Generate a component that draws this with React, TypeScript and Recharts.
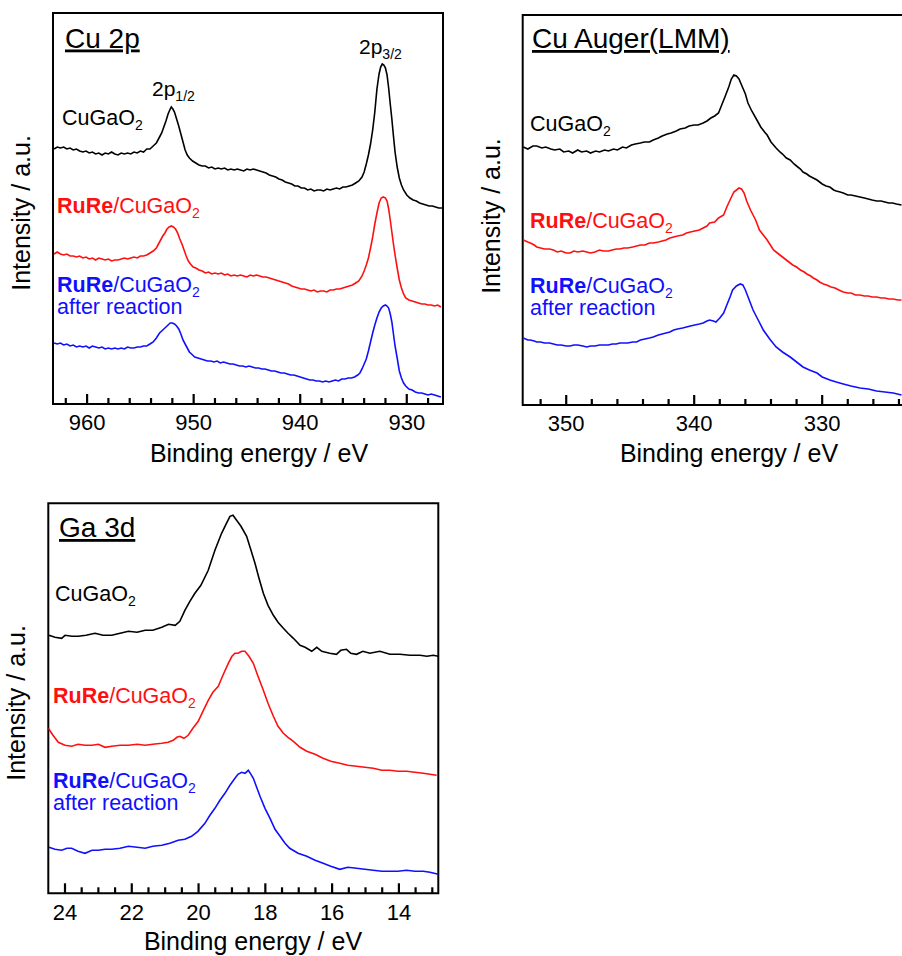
import React from 'react';
import { LineChart, Line, XAxis, YAxis, ReferenceArea, ReferenceLine } from 'recharts';

const FONT = '"Liberation Sans", Arial, Helvetica, sans-serif';
const BLACK = '#000000';
const RED = '#ff1010';
const BLUE = '#1010ff';

type Pt = [number, number];

// --- Cu 2p (binding energy eV, intensity a.u.) ---
const cu2pBlack: Pt[] = [
  [963.1, 255], [962.8, 257], [962.5, 256], [962.2, 257], [961.9, 255], [961.6, 256], [961.3, 254], [961.0, 255],
  [960.7, 253], [960.4, 252], [960.1, 253], [959.8, 251], [959.5, 252], [959.2, 250], [958.9, 251], [958.6, 249],
  [958.3, 251], [958.0, 250], [957.7, 252], [957.4, 250], [957.1, 249], [956.8, 251], [956.5, 250], [956.2, 251],
  [955.9, 250], [955.6, 252], [955.3, 251], [955.0, 253], [954.7, 252], [954.4, 255], [954.1, 255], [953.8, 258],
  [953.5, 261], [953.2, 267], [953.0, 271], [952.8, 277], [952.6, 283], [952.4, 290], [952.2, 295], [952.1, 297],
  [951.95, 295], [951.8, 292], [951.6, 285], [951.4, 278], [951.2, 270], [951.0, 262], [950.8, 254], [950.6, 249],
  [950.4, 246], [950.1, 243], [949.8, 241], [949.5, 239], [949.2, 238], [948.9, 238], [948.6, 236], [948.3, 237],
  [948.0, 235], [947.7, 236], [947.4, 235], [947.1, 236], [946.8, 234], [946.5, 235], [946.2, 234], [945.9, 235],
  [945.6, 234], [945.3, 233], [945.0, 235], [944.7, 234], [944.4, 235], [944.1, 234], [943.8, 233], [943.5, 232],
  [943.2, 231], [942.9, 229], [942.6, 228], [942.3, 227], [942.0, 225], [941.7, 224], [941.4, 222], [941.1, 221],
  [940.8, 220], [940.5, 218], [940.2, 218], [939.9, 216], [939.6, 216], [939.3, 214], [939.0, 215], [938.7, 213],
  [938.4, 214], [938.1, 214], [937.8, 213], [937.5, 215], [937.2, 214], [936.9, 215], [936.6, 216], [936.3, 215],
  [936.0, 217], [935.7, 217], [935.4, 218], [935.1, 219], [934.8, 221], [934.5, 223], [934.2, 227], [934.0, 232],
  [933.8, 240], [933.6, 249], [933.4, 260], [933.2, 274], [933.0, 292], [932.8, 315], [932.6, 330], [932.45, 337],
  [932.3, 340], [932.15, 339], [932.0, 336], [931.85, 329], [931.7, 316], [931.55, 300], [931.4, 285], [931.25, 268],
  [931.1, 252], [930.9, 237], [930.7, 226], [930.5, 219], [930.3, 214], [930.0, 209], [929.7, 206], [929.4, 204],
  [929.1, 203], [928.8, 201], [928.5, 200], [928.2, 199], [927.9, 198], [927.6, 198], [927.3, 197], [927.0, 196],
  [926.7, 196],
];

const cu2pRed: Pt[] = [
  [963.1, 150], [962.8, 152], [962.5, 150], [962.2, 149], [961.9, 150], [961.6, 148], [961.3, 148], [961.0, 147],
  [960.7, 148], [960.4, 146], [960.1, 147], [959.8, 145], [959.5, 146], [959.2, 144], [958.9, 146], [958.6, 145],
  [958.3, 144], [958.0, 145], [957.7, 143], [957.4, 144], [957.1, 144], [956.8, 145], [956.5, 146], [956.2, 145],
  [955.9, 146], [955.6, 147], [955.3, 146], [955.0, 148], [954.7, 148], [954.4, 149], [954.1, 151], [953.8, 153],
  [953.5, 156], [953.3, 160], [953.1, 164], [952.9, 168], [952.7, 171], [952.5, 175], [952.3, 177], [952.1, 178],
  [951.9, 177], [951.7, 175], [951.5, 171], [951.3, 165], [951.1, 160], [950.9, 154], [950.7, 148], [950.5, 143],
  [950.3, 140], [950.05, 137], [949.8, 136], [949.5, 134], [949.2, 133], [948.9, 131], [948.6, 132], [948.3, 130],
  [948.0, 131], [947.7, 130], [947.4, 131], [947.1, 129], [946.8, 130], [946.5, 128], [946.2, 129], [945.9, 128],
  [945.6, 129], [945.3, 128], [945.0, 127], [944.7, 129], [944.4, 128], [944.1, 129], [943.8, 128], [943.5, 127],
  [943.2, 127], [942.9, 126], [942.6, 125], [942.3, 124], [942.0, 123], [941.7, 122], [941.4, 121], [941.1, 120],
  [940.8, 118], [940.5, 117], [940.2, 116], [939.9, 115], [939.6, 115], [939.3, 114], [939.0, 113], [938.7, 114],
  [938.4, 112], [938.1, 113], [937.8, 113], [937.5, 112], [937.2, 114], [936.9, 114], [936.6, 115], [936.3, 115],
  [936.0, 116], [935.7, 117], [935.4, 118], [935.1, 119], [934.8, 121], [934.5, 123], [934.2, 128], [934.0, 133],
  [933.8, 139], [933.6, 146], [933.4, 156], [933.2, 167], [933.0, 180], [932.8, 191], [932.6, 201], [932.4, 206],
  [932.2, 207], [932.0, 206], [931.85, 203], [931.7, 195], [931.55, 184], [931.4, 172], [931.25, 160], [931.1, 149],
  [930.9, 136], [930.7, 124], [930.5, 116], [930.3, 110], [930.1, 106], [929.8, 104], [929.5, 103], [929.2, 102],
  [928.9, 101], [928.6, 100], [928.3, 100], [928.0, 99], [927.7, 99], [927.4, 98], [927.1, 99], [926.8, 97],
];

const cu2pBlue: Pt[] = [
  [963.1, 61], [962.8, 60], [962.5, 61], [962.2, 59], [961.9, 60], [961.6, 58], [961.3, 59], [961.0, 57],
  [960.7, 58], [960.4, 57], [960.1, 58], [959.8, 56], [959.5, 58], [959.2, 57], [958.9, 56], [958.6, 57],
  [958.3, 55], [958.0, 56], [957.7, 55], [957.4, 56], [957.1, 55], [956.8, 56], [956.5, 55], [956.2, 57],
  [955.9, 56], [955.6, 56], [955.3, 57], [955.0, 57], [954.7, 58], [954.4, 58], [954.1, 60], [953.8, 62],
  [953.5, 66], [953.2, 71], [953.0, 73], [952.8, 75], [952.6, 77], [952.4, 79], [952.2, 81], [952.0, 81],
  [951.8, 80], [951.6, 78], [951.4, 75], [951.2, 70], [951.0, 64], [950.8, 60], [950.6, 56], [950.4, 52],
  [950.2, 50], [949.9, 47], [949.6, 46], [949.3, 45], [949.0, 44], [948.7, 43], [948.4, 43], [948.1, 42],
  [947.8, 43], [947.5, 41], [947.2, 42], [946.9, 41], [946.6, 40], [946.3, 40], [946.0, 39], [945.7, 38],
  [945.4, 38], [945.1, 37], [944.8, 38], [944.5, 37], [944.2, 36], [943.9, 36], [943.6, 35], [943.3, 35],
  [943.0, 34], [942.7, 33], [942.4, 33], [942.1, 32], [941.8, 31], [941.5, 31], [941.2, 30], [940.9, 29],
  [940.6, 29], [940.3, 28], [940.0, 27], [939.7, 26], [939.4, 25], [939.1, 24], [938.8, 24], [938.5, 23],
  [938.2, 23], [937.9, 22], [937.6, 23], [937.3, 22], [937.0, 23], [936.7, 24], [936.4, 23], [936.1, 25],
  [935.8, 25], [935.5, 26], [935.2, 26], [934.9, 27], [934.6, 29], [934.4, 31], [934.2, 35], [934.0, 40],
  [933.8, 45], [933.6, 53], [933.4, 62], [933.2, 71], [933.0, 79], [932.8, 86], [932.6, 92], [932.4, 96],
  [932.2, 98], [932.0, 99], [931.85, 98], [931.7, 96], [931.55, 90], [931.4, 82], [931.25, 70], [931.1, 58],
  [930.9, 46], [930.7, 33], [930.5, 26], [930.3, 21], [930.1, 18], [929.8, 15], [929.5, 14], [929.2, 12],
  [928.9, 11], [928.6, 11], [928.3, 10], [928.0, 9], [927.7, 10], [927.4, 9], [927.1, 8], [926.8, 7],
];

// --- Cu Auger (LMM) ---
const augerBlack: Pt[] = [
  [353.35, 258], [353.0, 256], [352.6, 259], [352.3, 259], [351.9, 257], [351.6, 258], [351.2, 256], [350.9, 255],
  [350.5, 256], [350.2, 253], [349.8, 254], [349.5, 252], [349.1, 255], [348.8, 253], [348.4, 254], [348.1, 252],
  [347.7, 254], [347.4, 253], [347.0, 255], [346.7, 254], [346.3, 256], [346.0, 255], [345.6, 258], [345.3, 257],
  [344.9, 260], [344.6, 261], [344.2, 262], [343.9, 263], [343.5, 263], [343.2, 265], [342.8, 267], [342.5, 269],
  [342.1, 271], [341.8, 272], [341.4, 274], [341.1, 276], [340.7, 277], [340.4, 279], [340.0, 280], [339.7, 280],
  [339.3, 282], [339.0, 284], [338.7, 287], [338.4, 289], [338.1, 292], [337.85, 300], [337.6, 308], [337.3, 318],
  [337.1, 326], [336.9, 330], [336.7, 329], [336.5, 326], [336.3, 320], [336.0, 311], [335.8, 302], [335.5, 294],
  [335.1, 285], [334.8, 278], [334.5, 273], [334.3, 270], [334.0, 263], [333.6, 257], [333.3, 253], [333.1, 251],
  [332.8, 247], [332.5, 245], [332.2, 241], [332.0, 239], [331.7, 236], [331.5, 233], [331.2, 231], [331.0, 229],
  [330.7, 227], [330.4, 225], [330.0, 221], [329.7, 219], [329.4, 218], [329.1, 215], [328.9, 214], [328.6, 213],
  [328.35, 212], [328.0, 210], [327.75, 210], [327.4, 209], [327.05, 208], [326.7, 207], [326.4, 206], [326.1, 205],
  [325.75, 204], [325.4, 204], [325.1, 203], [324.8, 202], [324.5, 202], [324.2, 201], [323.8, 200],
];

const augerRed: Pt[] = [
  [353.35, 165], [353.0, 163], [352.8, 162], [352.5, 160], [352.3, 158], [352.0, 157], [351.7, 156], [351.3, 156],
  [351.0, 155], [350.7, 153], [350.4, 154], [350.0, 152], [349.7, 152], [349.4, 154], [349.1, 153], [348.7, 154],
  [348.4, 153], [348.1, 152], [347.75, 153], [347.4, 155], [347.1, 154], [346.7, 154], [346.4, 155], [346.1, 156],
  [345.8, 156], [345.5, 157], [345.2, 157], [344.8, 158], [344.5, 159], [344.2, 160], [343.85, 160], [343.5, 162],
  [343.2, 162], [342.8, 163], [342.5, 164], [342.2, 165], [341.9, 167], [341.6, 168], [341.3, 169], [340.9, 170],
  [340.6, 172], [340.3, 173], [339.95, 174], [339.6, 175], [339.3, 177], [339.0, 179], [338.8, 182], [338.4, 183],
  [338.1, 187], [337.7, 190], [337.45, 198], [337.2, 205], [336.9, 213], [336.5, 217], [336.3, 216], [336.1, 212],
  [335.9, 204], [335.6, 195], [335.2, 185], [334.9, 175], [334.6, 170], [334.3, 165], [334.0, 159], [333.8, 155],
  [333.5, 152], [333.3, 150], [333.0, 147], [332.8, 145], [332.5, 142], [332.3, 140], [332.0, 138], [331.7, 135],
  [331.4, 133], [331.2, 131], [330.9, 129], [330.7, 127], [330.4, 125], [330.2, 123], [329.9, 121], [329.65, 120],
  [329.3, 118], [329.0, 117], [328.7, 115], [328.35, 113], [328.0, 112], [327.75, 112], [327.4, 110], [327.05, 110],
  [326.7, 109], [326.4, 109], [326.1, 108], [325.75, 108], [325.4, 107], [325.1, 107], [324.8, 106], [324.45, 106],
  [324.1, 105], [323.8, 105],
];

const augerBlue: Pt[] = [
  [353.35, 67], [353.0, 65], [352.8, 65], [352.5, 64], [352.3, 63], [352.0, 63], [351.7, 62], [351.3, 62],
  [351.0, 61], [350.7, 60], [350.4, 60], [350.0, 59], [349.7, 59], [349.4, 60], [349.1, 60], [348.7, 59],
  [348.4, 58], [348.1, 59], [347.75, 59], [347.4, 60], [347.1, 60], [346.7, 60], [346.4, 61], [346.1, 61],
  [345.8, 62], [345.5, 62], [345.2, 62], [344.8, 63], [344.5, 63], [344.2, 65], [343.85, 66], [343.5, 67],
  [343.2, 68], [342.8, 70], [342.5, 71], [342.2, 72], [341.9, 73], [341.6, 75], [341.3, 76], [340.9, 77],
  [340.6, 78], [340.3, 79], [339.95, 80], [339.6, 81], [339.3, 82], [339.0, 84], [338.8, 85], [338.5, 84],
  [338.3, 83], [338.0, 87], [337.7, 92], [337.45, 100], [337.2, 108], [337.0, 115], [336.7, 119], [336.4, 121],
  [336.2, 120], [336.0, 115], [335.7, 105], [335.4, 95], [335.0, 85], [334.6, 75], [334.1, 66], [333.6, 58],
  [333.1, 53], [332.5, 48], [332.0, 43], [331.5, 38], [331.0, 35], [330.4, 32], [330.0, 28], [329.4, 25],
  [328.9, 23], [328.35, 21], [327.75, 19], [327.05, 17], [326.4, 16], [325.75, 14], [325.1, 13], [324.45, 12],
  [323.8, 10],
];

// --- Ga 3d ---
const gaBlack: Pt[] = [
  [24.48, 258], [24.3, 256], [24.1, 255], [24.0, 258], [23.79, 257], [23.6, 257], [23.37, 258], [23.1, 260],
  [22.86, 258], [22.6, 258], [22.35, 260], [22.1, 262], [21.84, 261], [21.6, 263], [21.37, 263], [21.1, 266],
  [20.9, 269], [20.7, 268], [20.56, 272], [20.41, 283], [20.26, 292], [20.11, 300], [19.93, 308], [19.71, 323],
  [19.51, 343], [19.31, 360], [19.18, 369], [19.06, 377], [18.97, 378], [18.86, 373], [18.73, 367], [18.56, 357],
  [18.43, 343], [18.31, 330], [18.19, 315], [18.06, 300], [17.92, 288], [17.76, 278], [17.62, 271], [17.46, 265],
  [17.32, 260], [17.16, 255], [16.96, 248], [16.81, 246], [16.61, 242], [16.46, 246], [16.31, 242], [16.07, 240],
  [15.87, 239], [15.74, 243], [15.57, 244], [15.44, 240], [15.27, 239], [15.08, 242], [14.87, 240], [14.57, 242],
  [14.27, 239], [13.97, 239], [13.67, 238], [13.37, 238], [13.16, 237], [12.97, 238], [12.82, 237],
];

const gaRed: Pt[] = [
  [24.5, 165], [24.36, 158], [24.2, 151], [24.0, 148], [23.8, 147], [23.61, 149], [23.4, 148], [23.19, 148],
  [23.0, 149], [22.8, 146], [22.6, 147], [22.35, 148], [22.1, 148], [21.84, 149], [21.6, 148], [21.37, 149],
  [21.1, 150], [20.91, 151], [20.76, 153], [20.65, 156], [20.56, 157], [20.44, 155], [20.31, 158], [20.17, 165],
  [20.01, 172], [19.87, 182], [19.71, 193], [19.57, 201], [19.41, 207], [19.27, 218], [19.11, 230], [19.0, 237],
  [18.91, 240], [18.82, 240], [18.71, 242], [18.61, 242], [18.49, 237], [18.36, 230], [18.22, 217], [18.06, 203],
  [17.92, 190], [17.76, 177], [17.62, 167], [17.46, 160], [17.32, 156], [17.16, 152], [16.96, 146], [16.76, 142],
  [16.51, 139], [16.27, 135], [16.04, 132], [15.77, 130], [15.53, 128], [15.27, 127], [15.02, 126], [14.77, 125],
  [14.51, 123], [14.27, 123], [14.03, 122], [13.77, 122], [13.52, 121], [13.27, 120], [13.07, 119], [12.87, 118],
];

const gaBlue: Pt[] = [
  [24.48, 46], [24.3, 44], [24.1, 43], [23.94, 45], [23.8, 45], [23.61, 42], [23.4, 40], [23.19, 43],
  [23.0, 43], [22.8, 44], [22.6, 44], [22.35, 45], [22.1, 47], [21.84, 46], [21.6, 45], [21.37, 47],
  [21.1, 48], [20.86, 50], [20.61, 53], [20.41, 54], [20.21, 57], [20.02, 62], [19.81, 70], [19.66, 78],
  [19.51, 85], [19.36, 93], [19.21, 100], [19.06, 108], [18.91, 115], [18.82, 119], [18.71, 121], [18.61, 120],
  [18.51, 123], [18.43, 119], [18.36, 115], [18.26, 106], [18.16, 97], [18.01, 85], [17.86, 75], [17.71, 64],
  [17.56, 57], [17.41, 50], [17.27, 45], [17.02, 40], [16.76, 37], [16.51, 33], [16.27, 30], [16.04, 27],
  [15.77, 24], [15.53, 26], [15.27, 25], [15.02, 24], [14.77, 23], [14.51, 22], [14.27, 22], [14.03, 22],
  [13.77, 23], [13.52, 22], [13.27, 22], [13.07, 21], [12.82, 19],
];

// ticks (every tick drawn inward; majors get a label)
const cu2pTicks = [928, 930, 932, 934, 936, 938, 940, 942, 944, 946, 948, 950, 952, 954, 956, 958, 960, 962];
const cu2pMajors = [930, 940, 950, 960];
const augerTicks = [324, 326, 328, 330, 332, 334, 336, 338, 340, 342, 344, 346, 348, 350, 352];
const augerMajors = [330, 340, 350];
const gaTicks = [13, 13.5, 14, 14.5, 15, 15.5, 16, 16.5, 17, 17.5, 18, 18.5, 19, 19.5, 20, 20.5, 21, 21.5, 22, 22.5, 23, 23.5, 24];
const gaMajors = [14, 16, 18, 20, 22, 24];

const toRows = (pts: Pt[]) => pts.map(([e, i]) => ({ e, i }));

interface Series { pts: Pt[]; color: string }

interface PanelProps {
  left: number;
  top: number;
  width: number;
  height: number;
  margin: { top: number; left: number; right: number; bottom: number };
  xDomain: [number, number];
  yMax: number;
  ticks: number[];
  majors: number[];
  labelOffset: number;
  series: Series[];
}

const Panel: React.FC<PanelProps> = ({ left, top, width, height, margin, xDomain, yMax, ticks, majors, labelOffset, series }) => {
  // y is the axis line because tickSize/tickMargin are 0
  const renderTick = (props: any) => {
    const { x, y, payload } = props;
    return (
      <text x={x} y={y + labelOffset} textAnchor="middle" fontSize={22} fontFamily={FONT} fill="#000">
        {payload.value}
      </text>
    );
  };
  return (
    <div style={{ position: 'absolute', left, top }}>
      <LineChart width={width} height={height} margin={margin}>
        <XAxis
          type="number"
          dataKey="e"
          domain={xDomain}
          reversed
          allowDataOverflow
          ticks={majors}
          interval={0}
          tick={renderTick}
          tickSize={0}
          tickMargin={0}
          tickLine={false}
          axisLine={false}
          height={40}
        />
        <YAxis type="number" domain={[0, yMax]} hide allowDataOverflow />
        {/* inward tick marks; one y unit is one pixel */}
        {ticks.map((t) => (
          <ReferenceLine
            key={t}
            segment={[{ x: t, y: 0 }, { x: t, y: majors.includes(t) ? 10 : 6 }]}
            stroke="#000"
            strokeWidth={2.2}
            ifOverflow="visible"
          />
        ))}
        <ReferenceArea
          x1={xDomain[0]}
          x2={xDomain[1]}
          y1={0}
          y2={yMax}
          fill="none"
          stroke="#000"
          strokeWidth={2}
          ifOverflow="visible"
        />
        {series.map((s, idx) => (
          <Line
            key={idx}
            data={toRows(s.pts)}
            dataKey="i"
            type="linear"
            stroke={s.color}
            strokeWidth={1.6}
            dot={false}
            isAnimationActive={false}
          />
        ))}
      </LineChart>
    </div>
  );
};

const Sample: React.FC<{ x: number; y: number; color: string; rure?: boolean; after?: boolean }> = ({ x, y, color, rure, after }) => (
  <g fill={color} fontFamily={FONT}>
    <text x={x} y={y} fontSize={21.5}>
      {rure && <tspan fontWeight="bold">RuRe</tspan>}
      {rure ? '/CuGaO' : 'CuGaO'}
      <tspan fontSize={14} dy={5}>2</tspan>
    </text>
    {after && (
      <text x={x} y={y + 22} fontSize={21.5}>after reaction</text>
    )}
  </g>
);

const Title: React.FC<{ x: number; y: number; text: string }> = ({ x, y, text }) => (
  <text x={x} y={y} fontSize={28} fontFamily={FONT} fill="#000" style={{ textDecoration: 'underline' }}>
    {text}
  </text>
);

const YTitle: React.FC<{ x: number; y: number }> = ({ x, y }) => (
  <text x={x} y={y} transform={`rotate(-90 ${x} ${y})`} textAnchor="middle" fontSize={25} fontFamily={FONT} fill="#000">
    Intensity / a.u.
  </text>
);

const XTitle: React.FC<{ x: number; y: number }> = ({ x, y }) => (
  <text x={x} y={y} textAnchor="middle" fontSize={25} fontFamily={FONT} fill="#000">
    Binding energy / eV
  </text>
);

export default function App() {
  return (
    <div style={{ position: 'absolute', left: 0, top: 0, width: 902, height: 956, overflow: 'hidden', background: '#fff' }}>
      <Panel
        left={0}
        top={0}
        width={460}
        height={470}
        margin={{ top: 13, left: 53, right: 17, bottom: 26 }}
        xDomain={[926.6, 963.2]}
        yMax={391}
        ticks={cu2pTicks}
        majors={cu2pMajors}
        labelOffset={26}
        series={[{ pts: cu2pBlack, color: BLACK }, { pts: cu2pRed, color: RED }, { pts: cu2pBlue, color: BLUE }]}
      />
      <Panel
        left={460}
        top={0}
        width={450}
        height={470}
        margin={{ top: 15, left: 62.7, right: 4, bottom: 25 }}
        xDomain={[323.45, 353.4]}
        yMax={390}
        ticks={augerTicks}
        majors={augerMajors}
        labelOffset={26}
        series={[{ pts: augerBlack, color: BLACK }, { pts: augerRed, color: RED }, { pts: augerBlue, color: BLUE }]}
      />
      <Panel
        left={0}
        top={480}
        width={460}
        height={476}
        margin={{ top: 23.3, left: 48.3, right: 21.7, bottom: 22.7 }}
        xDomain={[12.82, 24.5]}
        yMax={390}
        ticks={gaTicks}
        majors={gaMajors}
        labelOffset={27}
        series={[{ pts: gaBlack, color: BLACK }, { pts: gaRed, color: RED }, { pts: gaBlue, color: BLUE }]}
      />
      <svg width={902} height={956} style={{ position: 'absolute', left: 0, top: 0, pointerEvents: 'none' }}>
        {/* Cu 2p */}
        <Title x={65} y={47.5} text="Cu 2p" />
        <text x={152} y={96} fontSize={21} fontFamily={FONT} fill="#000">
          2p<tspan fontSize={14} dy={5}>1/2</tspan>
        </text>
        <text x={359} y={54} fontSize={21} fontFamily={FONT} fill="#000">
          2p<tspan fontSize={14} dy={5}>3/2</tspan>
        </text>
        <Sample x={62} y={125} color={BLACK} />
        <Sample x={57} y={213} color={RED} rure />
        <Sample x={57} y={292} color={BLUE} rure after />
        <XTitle x={259} y={462} />
        <YTitle x={30} y={213} />

        {/* Cu Auger */}
        <Title x={532} y={48} text="Cu Auger(LMM)" />
        <Sample x={530} y={131} color={BLACK} />
        <Sample x={530} y={228} color={RED} rure />
        <Sample x={530} y={293} color={BLUE} rure after />
        <XTitle x={729} y={462} />
        <YTitle x={500} y={216} />

        {/* Ga 3d */}
        <Title x={59} y={537} text="Ga 3d" />
        <Sample x={55} y={601} color={BLACK} />
        <Sample x={53} y={703} color={RED} rure />
        <Sample x={53} y={788} color={BLUE} rure after />
        <XTitle x={253} y={950} />
        <YTitle x={25} y={703} />
      </svg>
    </div>
  );
}
